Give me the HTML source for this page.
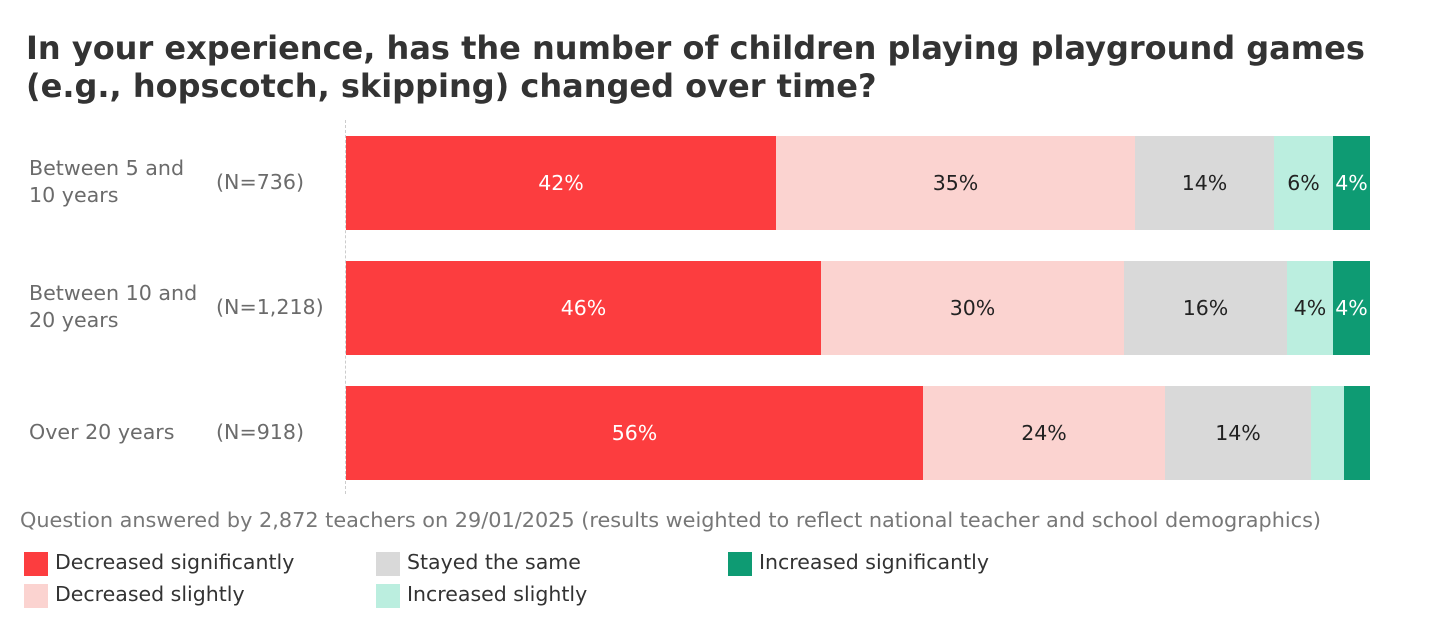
<!DOCTYPE html>
<html><head><meta charset="utf-8"><style>
body{margin:0;width:1440px;height:640px;background:#fff;font-family:"DejaVu Sans","Liberation Sans",sans-serif;position:relative;overflow:hidden}
.a{position:absolute;white-space:nowrap}
.t{left:26px;font-weight:bold;font-size:32px;color:#333;line-height:38px}
.lab{font-size:20.6px;color:#6b6b6b;line-height:27px}
.seg{position:absolute;height:94px;display:flex;align-items:center;justify-content:center;font-size:20.5px;color:#222}
.w{color:#fff}
.leg{font-size:20.5px;color:#333}
.sq{position:absolute;width:24px;height:24px}
</style></head><body>
<div class="a t" style="top:29px">In your experience, has the number of children playing playground games<br>(e.g., hopscotch, skipping) changed over time?</div>
<div class="a" style="left:345px;top:120px;height:374px;border-left:1px dashed #ccc"></div>

<div class="a lab" style="left:29px;top:155px">Between 5 and<br>10 years</div>
<div class="a lab" style="left:216px;top:169px">(N=736)</div>
<div class="a lab" style="left:29px;top:280px">Between 10 and<br>20 years</div>
<div class="a lab" style="left:216px;top:294px">(N=1,218)</div>
<div class="a lab" style="left:29px;top:419px">Over 20 years</div>
<div class="a lab" style="left:216px;top:419px">(N=918)</div>

<div class="seg w" style="top:136px;left:346px;width:430px;background:#fc3d3f">42%</div>
<div class="seg" style="top:136px;left:776px;width:359px;background:#fbd3d0">35%</div>
<div class="seg" style="top:136px;left:1135px;width:139px;background:#d9d9d9">14%</div>
<div class="seg" style="top:136px;left:1274px;width:59px;background:#bbeedf">6%</div>
<div class="seg w" style="top:136px;left:1333px;width:37px;background:#0e9b73">4%</div>

<div class="seg w" style="top:261px;left:346px;width:475px;background:#fc3d3f">46%</div>
<div class="seg" style="top:261px;left:821px;width:303px;background:#fbd3d0">30%</div>
<div class="seg" style="top:261px;left:1124px;width:163px;background:#d9d9d9">16%</div>
<div class="seg" style="top:261px;left:1287px;width:46px;background:#bbeedf">4%</div>
<div class="seg w" style="top:261px;left:1333px;width:37px;background:#0e9b73">4%</div>

<div class="seg w" style="top:386px;left:346px;width:577px;background:#fc3d3f">56%</div>
<div class="seg" style="top:386px;left:923px;width:242px;background:#fbd3d0">24%</div>
<div class="seg" style="top:386px;left:1165px;width:146px;background:#d9d9d9">14%</div>
<div class="seg" style="top:386px;left:1311px;width:33px;background:#bbeedf"></div>
<div class="seg" style="top:386px;left:1344px;width:26px;background:#0e9b73"></div>

<div class="a" style="left:20px;top:508px;font-size:20.8px;color:#777">Question answered by 2,872 teachers on 29/01/2025 (results weighted to reflect national teacher and school demographics)</div>

<div class="sq" style="left:24px;top:552px;background:#fc3d3f"></div>
<div class="a leg" style="left:55px;top:550px">Decreased significantly</div>
<div class="sq" style="left:24px;top:584px;background:#fbd3d0"></div>
<div class="a leg" style="left:55px;top:582px">Decreased slightly</div>
<div class="sq" style="left:376px;top:552px;background:#d9d9d9"></div>
<div class="a leg" style="left:407px;top:550px">Stayed the same</div>
<div class="sq" style="left:376px;top:584px;background:#bbeedf"></div>
<div class="a leg" style="left:407px;top:582px">Increased slightly</div>
<div class="sq" style="left:728px;top:552px;background:#0e9b73"></div>
<div class="a leg" style="left:759px;top:550px">Increased significantly</div>
</body></html>
